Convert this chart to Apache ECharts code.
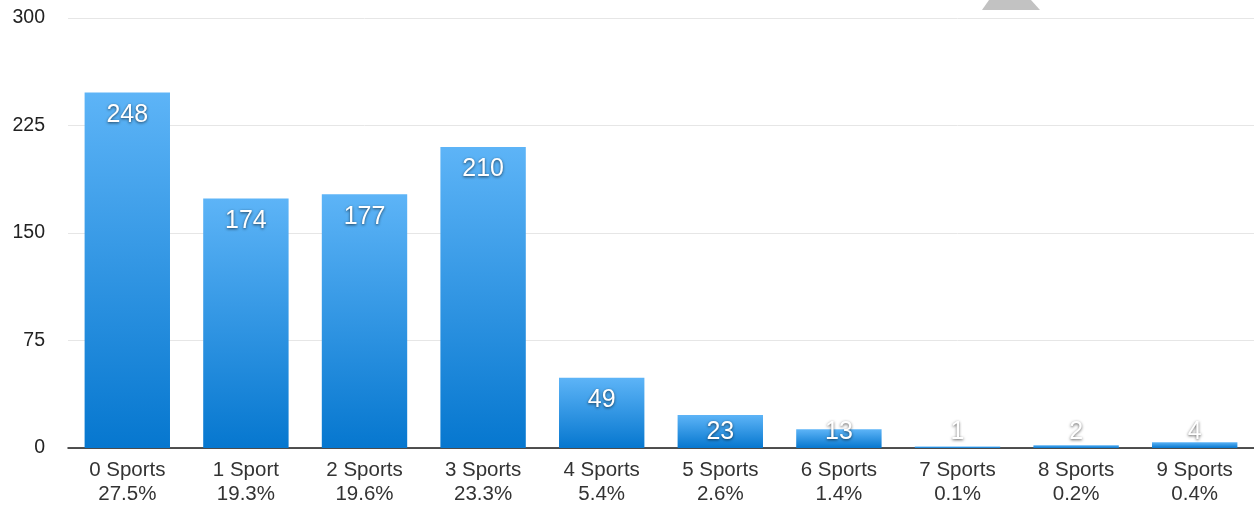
<!DOCTYPE html>
<html>
<head>
<meta charset="utf-8">
<script src="https://cdn.jsdelivr.net/npm/echarts@6/dist/echarts.min.js"></script>
<style>
html,body{margin:0;padding:0;background:#fff;}
#chart{width:1254px;height:506px;}
</style>
</head>
<body>
<div id="chart"></div>
<script>
const categories = ['0 Sports','1 Sport','2 Sports','3 Sports','4 Sports','5 Sports','6 Sports','7 Sports','8 Sports','9 Sports'];
const percents = ['27.5%','19.3%','19.6%','23.3%','5.4%','2.6%','1.4%','0.1%','0.2%','0.4%'];
const counts = [248,174,177,210,49,23,13,1,2,4];
const yTicks = [0,75,150,225,300];

const chart = echarts.init(document.getElementById('chart'));
const FONT = '"Liberation Sans", Arial, Helvetica, sans-serif';

const labelBase = {
  show: true,
  color: '#ffffff',
  fontSize: 25,
  fontFamily: FONT,
  textShadowColor: 'rgba(0,0,0,0.65)',
  textShadowBlur: 3,
  textShadowOffsetY: 1
};

const barData = counts.map(v => ({
  value: v,
  label: v >= 30 ? { position: 'insideTop', distance: 10 } : { position: 'insideBottom', distance: 3 }
}));

chart.setOption({
  animation: false,
  backgroundColor: '#ffffff',
  grid: { left: 68, right: 0, top: 18, bottom: 58, containLabel: false },
  xAxis: {
    type: 'category',
    data: categories.map((c, i) => c + '\n' + percents[i]),
    axisLine: { show: true, lineStyle: { color: '#1a1a1a', width: 1.5 } },
    axisTick: { show: false },
    axisLabel: {
      color: '#333333',
      fontSize: 20.5,
      fontFamily: FONT,
      lineHeight: 24,
      margin: 10,
      interval: 0
    },
    splitLine: { show: false }
  },
  yAxis: {
    type: 'value',
    min: yTicks[0],
    max: yTicks[yTicks.length - 1],
    interval: yTicks[1] - yTicks[0],
    axisLine: { show: false },
    axisTick: { show: false },
    axisLabel: {
      color: '#222222',
      fontSize: 19.5,
      fontFamily: FONT,
      margin: 23
    },
    splitLine: { show: true, lineStyle: { color: '#e6e6e6', width: 1 } }
  },
  series: [{
    type: 'bar',
    data: barData,
    barWidth: '72%',
    itemStyle: {
      color: new echarts.graphic.LinearGradient(0, 0, 0, 1, [
        { offset: 0, color: '#5db4f7' },
        { offset: 1, color: '#0677cf' }
      ])
    },
    label: labelBase
  }],
  graphic: [{
    type: 'polygon',
    shape: { points: [[989,0],[1031,0],[1040,10],[982,10]] },
    style: { fill: '#c2c2c2' },
    z: 100
  }]
});
</script>
</body>
</html>
